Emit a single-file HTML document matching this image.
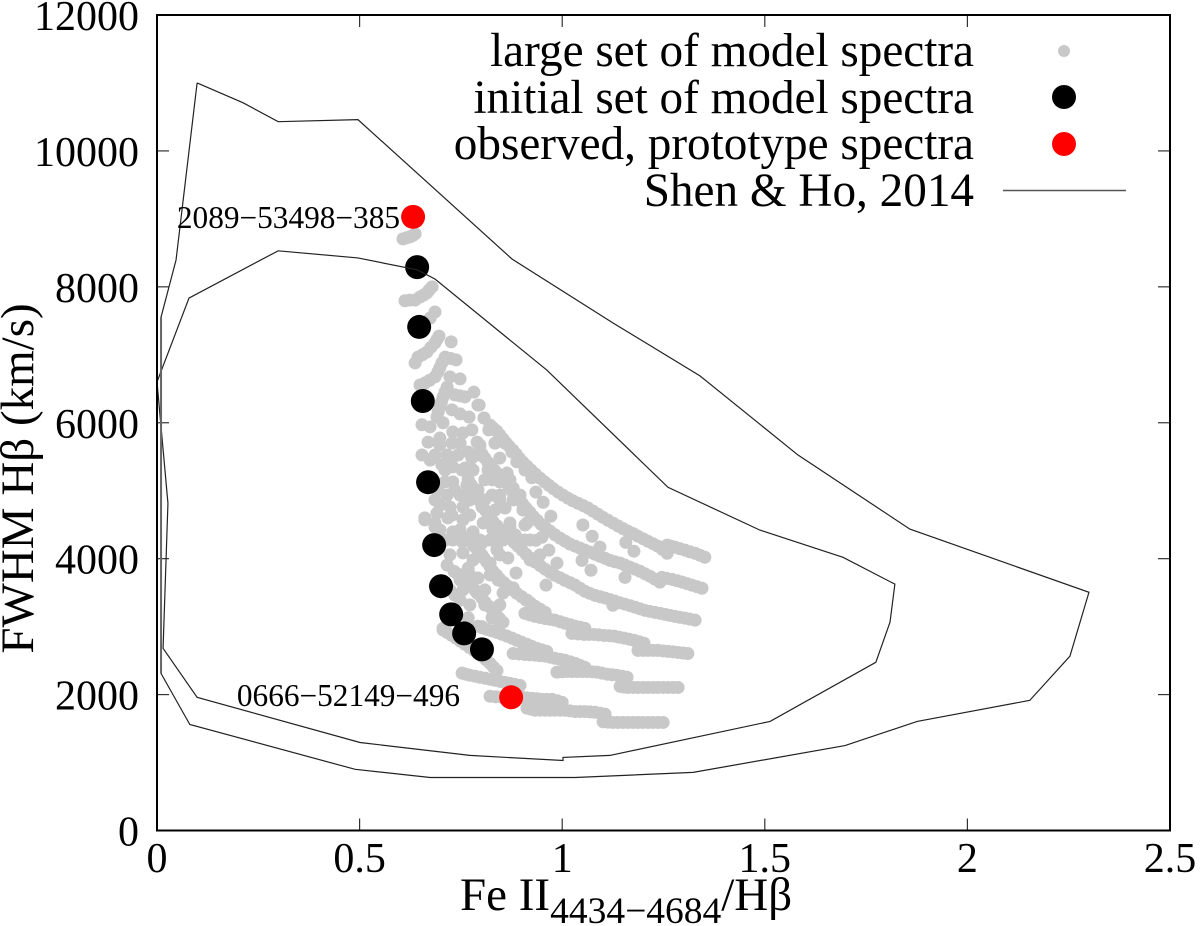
<!DOCTYPE html>
<html lang="en">
<head>
<meta charset="utf-8">
<title>FWHM H-beta versus Fe II / H-beta</title>
<style>
html,body{margin:0;padding:0;background:#fff;}
svg{display:block;font-family:"Liberation Serif",serif;}
text{fill:#000;}
</style>
</head>
<body>
<svg id="chart" width="1200" height="926" viewBox="0 0 1200 926" xmlns="http://www.w3.org/2000/svg">
  <rect x="0" y="0" width="1200" height="926" fill="#fff"/>
  <g id="ticks"></g>
  <g id="grayDots"></g>
  <g id="blackDots"></g>
  <g id="redDots"></g>
  <g id="contours"></g>
  <rect x="157" y="15" width="1013" height="815.5" fill="none" stroke="#000" stroke-width="2"/>
  <g id="tickLabels"></g>

  <text x="400" y="228" text-anchor="end" font-size="31.3">2089−53498−385</text>
  <text x="460" y="706" text-anchor="end" font-size="31.3">0666−52149−496</text>

  <text transform="translate(33,478.5) rotate(-90)" text-anchor="middle" font-size="47">FWHM Hβ (km/s)</text>
  <text x="460" y="910" font-size="47">Fe II<tspan font-size="37.5" dy="13">4434−4684</tspan><tspan dy="-13">/Hβ</tspan></text>

  <g font-size="47.2" text-anchor="end">
    <text x="974" y="66">large set of model spectra</text>
    <text x="974" y="113">initial set of model spectra</text>
    <text x="974" y="159">observed, prototype spectra</text>
    <text x="974" y="206">Shen &amp; Ho, 2014</text>
    <circle cx="1064" cy="51" r="6" fill="#c8c8c8"/>
    <circle cx="1064" cy="97" r="12" fill="#000"/>
    <circle cx="1064" cy="144" r="12" fill="#f00"/>
    <line x1="1003" y1="190.5" x2="1126" y2="190.5" stroke="#555" stroke-width="1.6"/>
  </g>
</svg>

<script>
const xTicks = [0, 0.5, 1, 1.5, 2, 2.5];
const xTickLabels = ["0", "0.5", "1", "1.5", "2", "2.5"];
const yTicks = [0, 2000, 4000, 6000, 8000, 10000, 12000];
const yTickLabels = ["0", "2000", "4000", "6000", "8000", "10000", "12000"];

const outerContour = [[0.099,11000],[0.212,10710],[0.299,10430],[0.496,10460],[0.876,8410],[1.125,7470],[1.340,6690],[1.582,5525],[1.858,4435],[2.300,3505],[2.253,2565],[2.154,1915],[1.876,1605],[1.698,1250],[1.323,855],[1.032,780],[0.674,780],[0.489,900],[0.081,1560],[0.010,2310],[0.010,7555],[0.047,8395],[0.099,11000]];
const innerContour = [[0,6600],[0.079,7835],[0.299,8530],[0.496,8425],[0.642,8250],[0.686,8115],[0.962,6775],[1.261,5050],[1.488,4420],[1.693,4020],[1.821,3625],[1.809,3065],[1.774,2475],[1.513,1605],[1.118,1105],[1.002,1075],[1.002,1030],[0.772,1105],[0.501,1295],[0.099,1960],[0.015,2680],[0.027,4815],[0,6600]];
const contourLeftEdge = [[0.010,2310],[0.010,7555]];

const initialSet = [[0.642,8290],[0.647,7410],[0.656,6320],[0.669,5125],[0.684,4200],[0.701,3595],[0.726,3180],[0.758,2900],[0.802,2665]];
const observedSet = [[0.632,9030],[0.874,1960]];

const track1a = [[1.249,1590],[1.237,1590],[1.224,1590],[1.212,1590],[1.199,1590],[1.187,1590],[1.175,1590],[1.162,1590],[1.150,1590],[1.137,1590],[1.125,1590],[1.113,1595],[1.101,1600]];
const track1b = [[1.106,1710],[1.094,1725],[1.081,1740],[1.069,1745],[1.056,1750],[1.044,1750],[1.032,1750],[1.019,1760],[1.007,1770],[0.995,1770],[0.982,1770],[0.970,1770],[0.958,1770],[0.945,1770],[0.933,1770],[0.923,1785],[0.913,1800]];
const track1c = [[1.000,1885],[0.988,1910],[0.975,1930],[0.962,1930],[0.950,1930],[0.938,1938],[0.925,1945],[0.913,1952],[0.901,1960],[0.888,1960],[0.876,1960],[0.863,1960],[0.851,1960],[0.836,1968],[0.822,1975]];
const track1d = [[0.896,2135],[0.883,2150],[0.871,2165],[0.858,2180],[0.846,2195],[0.834,2210],[0.822,2225],[0.810,2240],[0.797,2255],[0.785,2270],[0.772,2285],[0.762,2300],[0.753,2315]];
const track1e = [[0.839,2355],[0.830,2408],[0.822,2460],[0.812,2512],[0.802,2565],[0.792,2608],[0.782,2650],[0.771,2695],[0.760,2740],[0.749,2785],[0.738,2830],[0.727,2872],[0.716,2915],[0.706,2975]];
const track2a = [[1.286,2105],[1.274,2105],[1.261,2105],[1.249,2105],[1.236,2105],[1.224,2105],[1.212,2105],[1.200,2105],[1.187,2105],[1.175,2105],[1.162,2105],[1.152,2112],[1.143,2120]];
const track2b = [[1.160,2255],[1.148,2270],[1.135,2285],[1.123,2292],[1.111,2300],[1.098,2315],[1.086,2330],[1.074,2335],[1.061,2340],[1.049,2340],[1.037,2340],[1.025,2340],[1.012,2340],[1.000,2335],[0.987,2330]];
const track2c = [[1.056,2400],[1.044,2430],[1.032,2460],[1.020,2482],[1.007,2505],[0.995,2520],[0.982,2535],[0.970,2550],[0.958,2565],[0.945,2572],[0.933,2580],[0.920,2585],[0.908,2590],[0.893,2598],[0.879,2605]];
const track2d = [[0.962,2635],[0.950,2658],[0.938,2680],[0.925,2710],[0.913,2740],[0.900,2770],[0.888,2800],[0.876,2830],[0.864,2860],[0.851,2888],[0.839,2915],[0.826,2938],[0.814,2960],[0.803,2982],[0.792,3005]];
const track2e = [[0.854,3065],[0.845,3122],[0.837,3180],[0.828,3240],[0.819,3300],[0.810,3360],[0.802,3420],[0.794,3478],[0.785,3535],[0.776,3588],[0.768,3640],[0.759,3690],[0.750,3740],[0.741,3778],[0.733,3815]];
const track3a = [[1.310,2605],[1.298,2612],[1.286,2620],[1.274,2628],[1.261,2635],[1.249,2642],[1.236,2650],[1.224,2650],[1.212,2650],[1.200,2650],[1.187,2650]];
const track3b = [[1.202,2755],[1.190,2778],[1.177,2800],[1.165,2815],[1.153,2830],[1.140,2845],[1.128,2860],[1.116,2865],[1.103,2870],[1.090,2878],[1.078,2885],[1.066,2885],[1.054,2885],[1.039,2892],[1.024,2900]];
const track3c = [[1.056,2975],[1.044,2990],[1.032,3005],[1.020,3028],[1.007,3050],[0.995,3072],[0.982,3095],[0.970,3108],[0.958,3120],[0.945,3135],[0.933,3150],[0.920,3172],[0.908,3195]];
const track3d = [[0.958,3210],[0.946,3255],[0.933,3300],[0.922,3345],[0.911,3390],[0.900,3440],[0.888,3490],[0.877,3542],[0.866,3595],[0.856,3648],[0.846,3700],[0.838,3758],[0.829,3815],[0.822,3882],[0.814,3950],[0.807,4008],[0.800,4065],[0.791,4125],[0.782,4185],[0.775,4242],[0.768,4300]];
const track4 = [[1.328,3095],[1.315,3110],[1.303,3125],[1.290,3138],[1.278,3150],[1.266,3165],[1.254,3180],[1.242,3195],[1.229,3210],[1.216,3225],[1.204,3240],[1.192,3262],[1.180,3285],[1.168,3308],[1.155,3330],[1.142,3352],[1.130,3375],[1.118,3398],[1.106,3420],[1.094,3440],[1.081,3460],[1.068,3490],[1.056,3520],[1.044,3565],[1.032,3610],[1.020,3645],[1.007,3680],[0.995,3718],[0.982,3755],[0.970,3800],[0.958,3845],[0.946,3898],[0.933,3950],[0.922,4008],[0.911,4065],[0.901,4125],[0.891,4185],[0.881,4242],[0.871,4300],[0.860,4360],[0.849,4420],[0.839,4485],[0.829,4550],[0.820,4625],[0.812,4700],[0.804,4772],[0.797,4845],[0.790,4928],[0.782,5010],[0.775,5090],[0.768,5170]];
const track5a = [[1.345,3565],[1.332,3588],[1.320,3610],[1.308,3632],[1.296,3655],[1.284,3675],[1.271,3695],[1.258,3710],[1.246,3725]];
const track5b = [[1.241,3655],[1.229,3698],[1.217,3740],[1.204,3778],[1.192,3815],[1.180,3845],[1.167,3875],[1.155,3905],[1.143,3935],[1.130,3955],[1.118,3975],[1.106,4005],[1.093,4035],[1.081,4065],[1.069,4095],[1.056,4125],[1.044,4155],[1.032,4185],[1.019,4215],[1.007,4258],[0.995,4300],[0.982,4352],[0.970,4405],[0.959,4455],[0.948,4505],[0.938,4565],[0.928,4625],[0.920,4685],[0.911,4745],[0.902,4810],[0.893,4875],[0.885,4935],[0.876,4995],[0.868,5060],[0.859,5125],[0.850,5185],[0.842,5245],[0.833,5302],[0.824,5360],[0.816,5420],[0.809,5480],[0.803,5532],[0.797,5585]];
const track6a = [[1.352,4020],[1.340,4050],[1.328,4080],[1.315,4102],[1.303,4125],[1.290,4148],[1.278,4170],[1.268,4185],[1.259,4200]];
const track6b = [[1.259,4080],[1.248,4132],[1.236,4185],[1.224,4220],[1.212,4255],[1.200,4292],[1.187,4330],[1.175,4368],[1.162,4405],[1.150,4442],[1.138,4480],[1.126,4522],[1.113,4565],[1.100,4610],[1.088,4655],[1.076,4700],[1.064,4745],[1.052,4780],[1.039,4815],[1.026,4852],[1.014,4890],[1.002,4935],[0.990,4980],[0.978,5030],[0.967,5080],[0.956,5132],[0.945,5185],[0.934,5245],[0.923,5305],[0.913,5362],[0.903,5420],[0.894,5480],[0.886,5540],[0.878,5598],[0.869,5655],[0.861,5708],[0.854,5760],[0.846,5818],[0.839,5875],[0.830,5920],[0.822,5965],[0.807,6070],[0.795,6260]];
const topGroup = [[0.607,8705],[0.615,8720],[0.624,8735],[0.631,8755],[0.637,8780],[0.612,7795],[0.624,7805],[0.637,7805],[0.649,7850],[0.658,7880],[0.666,7910],[0.679,8000],[0.672,7955],[0.686,7630],[0.674,7540],[0.696,7275],[0.691,7225],[0.686,7175],[0.676,7110],[0.666,7040],[0.655,7000],[0.644,6965],[0.637,6880],[0.726,7190],[0.738,6925],[0.725,6945],[0.711,6965],[0.703,6880],[0.698,6810],[0.693,6745],[0.686,6675],[0.673,6625],[0.661,6585],[0.649,6555],[0.723,6675],[0.748,6645],[0.716,6525],[0.711,6455],[0.706,6380],[0.702,6305],[0.698,6230],[0.694,6160],[0.691,6085],[0.782,6450],[0.760,6380],[0.735,6410],[0.748,6395]];
const clusterUpper = [[0.792,6260],[0.807,6070],[0.819,5895],[0.846,5820],[0.859,5700],[0.876,5570],[0.834,5700],[0.846,5480],[0.888,5425],[0.908,5305],[0.925,5190],[0.728,6190],[0.748,6130],[0.770,6085],[0.706,6000],[0.654,5970],[0.674,5940],[0.777,5895],[0.755,5850],[0.730,5865],[0.790,5715],[0.669,5715],[0.698,5775],[0.728,5700],[0.748,5700],[0.768,5570],[0.797,5525],[0.654,5525],[0.686,5525],[0.716,5525],[0.743,5525],[0.703,5380],[0.730,5350],[0.760,5335],[0.780,5305],[0.817,5305],[0.827,5160],[0.864,5260],[0.846,5130],[0.730,5130],[0.765,5085],[0.792,5010],[0.827,4935],[0.846,4935],[0.879,5040],[0.716,4935],[0.748,4935],[0.686,4865],[0.723,4760],[0.755,4760],[0.802,4760],[0.859,4745],[0.879,4865],[0.661,4600],[0.691,4670],[0.718,4600],[0.755,4570],[0.686,4525],[0.822,4640],[0.871,4525],[0.903,4715],[0.913,4525],[0.805,4525]];
const clusterLower = [[0.661,4570],[0.730,4395],[0.686,4465],[0.780,4395],[0.753,4250],[0.802,4230],[0.730,4275],[0.755,4085],[0.780,3980],[0.716,3905],[0.768,3860],[0.792,3715],[0.748,3685],[0.755,3540],[0.790,3495],[0.735,3465],[0.802,4055],[0.822,3935],[0.839,4130],[0.866,4010],[0.886,3790],[0.842,3685],[0.854,3495],[0.809,3320],[0.827,3130],[0.846,3055],[0.706,2950],[0.768,3130],[0.802,3000],[0.822,4275],[0.854,4275],[0.896,4275],[0.921,3980],[0.879,3570],[0.913,3390],[0.829,4425],[0.871,4465],[0.908,4495]];
const clusterFill = [[0.674,5450],[0.698,5670],[0.711,5305],[0.728,5480],[0.753,5305],[0.777,5480],[0.797,5670],[0.693,5010],[0.711,5130],[0.735,5010],[0.772,5010],[0.772,4865],[0.809,5160],[0.698,4790],[0.728,4640],[0.772,4640],[0.809,4865],[0.834,4715],[0.698,4425],[0.748,4425],[0.797,4275],[0.834,4275],[0.711,4275],[0.723,4055],[0.772,4275],[0.772,3760],[0.822,3760],[0.846,4055],[0.884,4350],[0.921,4275],[0.723,3540],[0.748,3390],[0.772,3320],[0.809,3540],[0.846,3320],[0.846,4865],[0.871,5160],[0.896,4935],[0.908,4275],[0.945,4055]];
const sparseGroup = [[0.935,4980],[0.953,4830],[0.972,4625],[1.051,4495],[1.074,4330],[1.093,4170],[1.157,4240],[1.177,4110],[0.967,4125],[0.987,3935],[1.049,3975],[1.071,3830],[1.155,3725],[1.125,3315],[0.960,3610],[0.935,4270],[0.950,4315]];

const largeSet = [track1a, track1b, track1c, track1d, track1e, track2a, track2b, track2c, track2d, track2e, track3a, track3b, track3c, track3d, track4, track5a, track5b, track6a, track6b, topGroup, clusterUpper, clusterLower, clusterFill, sparseGroup];

const NS = "http://www.w3.org/2000/svg";
const xScale = function (v) { return 157 + (v / 2.5) * 1013; };
const yScale = function (v) { return 830.5 - (v / 12000) * 815.5; };

function make(tag, parentId) {
  const el = document.createElementNS(NS, tag);
  document.getElementById(parentId).appendChild(el);
  return el;
}

largeSet.forEach(function (track) {
  track.forEach(function (p) {
    const c = make("circle", "grayDots");
    
    
    c.setAttribute("cx", xScale(p[0]));
    c.setAttribute("cy", yScale(p[1]));
    c.setAttribute("r", 6.5);
    c.setAttribute("fill", "#c8c8c8");
  });
});

initialSet.forEach(function (p) {
  const c = make("circle", "blackDots");
  
  
  c.setAttribute("cx", xScale(p[0]));
  c.setAttribute("cy", yScale(p[1]));
  c.setAttribute("r", 12);
  c.setAttribute("fill", "#000");
});

observedSet.forEach(function (p) {
  const c = make("circle", "redDots");
  
  
  c.setAttribute("cx", xScale(p[0]));
  c.setAttribute("cy", yScale(p[1]));
  c.setAttribute("r", 12);
  c.setAttribute("fill", "#f00");
});

[outerContour, innerContour].forEach(function (contour) {
  const line = make("polyline", "contours");
  
  
  line.setAttribute("points", contour.map(function (p) { return xScale(p[0]) + "," + yScale(p[1]); }).join(" "));
  line.setAttribute("fill", "none");
  line.setAttribute("stroke", "#222");
  line.setAttribute("stroke-width", "1.2");
});

const leftEdge = make("polyline", "contours");


leftEdge.setAttribute("points", contourLeftEdge.map(function (p) { return xScale(p[0]) + "," + yScale(p[1]); }).join(" "));
leftEdge.setAttribute("fill", "none");
leftEdge.setAttribute("stroke", "#666");
leftEdge.setAttribute("stroke-width", "2");

xTicks.forEach(function (v, i) {
  const x = xScale(v);
  const bottom = make("line", "ticks");
  
  
  bottom.setAttribute("x1", x); bottom.setAttribute("x2", x);
  bottom.setAttribute("y1", 830.5); bottom.setAttribute("y2", 818.5);
  bottom.setAttribute("stroke", "#333"); bottom.setAttribute("stroke-width", "1.2");
  const top = make("line", "ticks");
  
  
  top.setAttribute("x1", x); top.setAttribute("x2", x);
  top.setAttribute("y1", 15); top.setAttribute("y2", 27);
  top.setAttribute("stroke", "#333"); top.setAttribute("stroke-width", "1.2");
  const t = make("text", "tickLabels");
  
  
  t.setAttribute("x", x);
  t.setAttribute("y", 872);
  t.setAttribute("text-anchor", "middle");
  t.setAttribute("font-size", "42");
  t.textContent = xTickLabels[i];
});

yTicks.forEach(function (v, i) {
  const y = yScale(v);
  const left = make("line", "ticks");
  
  
  left.setAttribute("x1", 157); left.setAttribute("x2", 169);
  left.setAttribute("y1", y); left.setAttribute("y2", y);
  left.setAttribute("stroke", "#333"); left.setAttribute("stroke-width", "1.2");
  const right = make("line", "ticks");
  
  
  right.setAttribute("x1", 1170); right.setAttribute("x2", 1158);
  right.setAttribute("y1", y); right.setAttribute("y2", y);
  right.setAttribute("stroke", "#333"); right.setAttribute("stroke-width", "1.2");
  const t = make("text", "tickLabels");
  
  
  t.setAttribute("x", 139);
  t.setAttribute("y", y + 15);
  t.setAttribute("text-anchor", "end");
  t.setAttribute("font-size", "42");
  t.textContent = yTickLabels[i];
});
</script>
</body>
</html>
